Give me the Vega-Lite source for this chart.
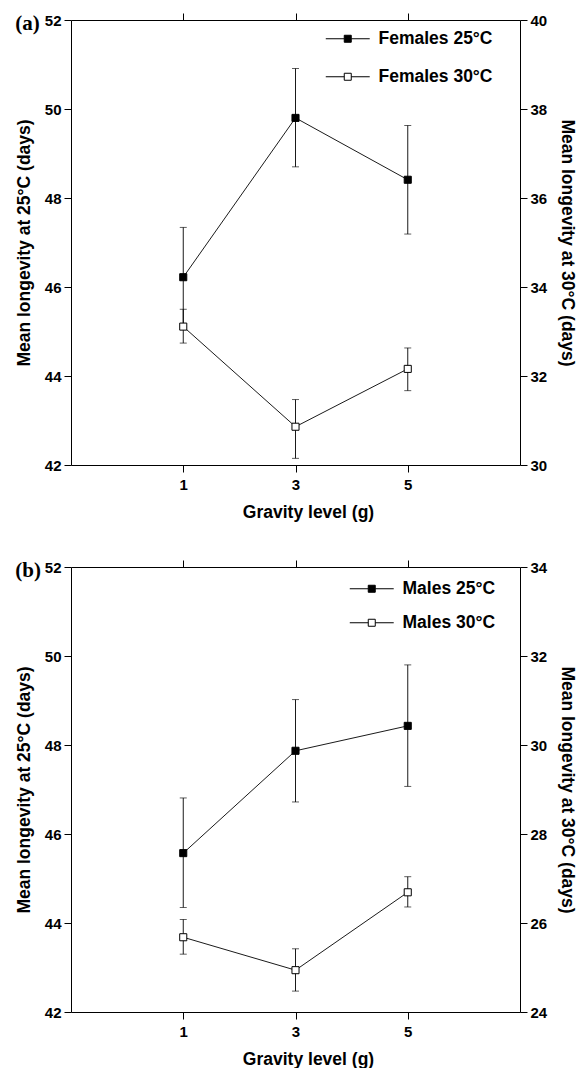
{
  "$schema": "https://vega.github.io/schema/vega-lite/v6.json",
  "background": "white",
  "padding": {"left": 14, "top": 12, "right": 5, "bottom": 0},
  "spacing": 38,
  "resolve": {"scale": {"fill": "independent"}, "legend": {"fill": "independent"}},
  "config": {
    "view": {"stroke": "black", "strokeWidth": 1},
    "font": "Liberation Sans",
    "axis": {
      "domain": false, "grid": false, "tickColor": "black", "tickSize": 7, "tickWidth": 1,
      "labelFont": "Liberation Sans", "labelFontWeight": "bold", "labelFontSize": 15, "labelColor": "black", "labelPadding": 3,
      "titleFont": "Liberation Sans", "titleFontWeight": "bold", "titleFontSize": 17.5, "titleColor": "black"
    },
    "legend": {
      "title": null, "orient": "none", "padding": 0,
      "symbolType": "M-3.14,0H-0.5M0.5,0H3.14M-0.5,-0.5H0.5V0.5H-0.5Z",
      "symbolSize": 196, "symbolStrokeColor": "black", "symbolStrokeWidth": 1,
      "labelFont": "Liberation Sans", "labelFontSize": 17.5, "labelFontWeight": "bold", "labelColor": "black",
      "labelOffset": 22
    }
  },
  "vconcat": [
    {
      "title": {"text": "(a)", "anchor": "start", "frame": "bounds", "orient": "top", "offset": -9, "dy": 23, "baseline": "middle", "font": "Liberation Serif", "fontWeight": "bold", "fontSize": 21, "color": "black"},
      "width": 449, "height": 445,
      "data": {"values": [
        {"series": "Females 25°C", "temp": 25, "g": 1, "mean": 46.22, "lo": 45.10, "hi": 47.34},
        {"series": "Females 25°C", "temp": 25, "g": 3, "mean": 49.80, "lo": 48.70, "hi": 50.91},
        {"series": "Females 25°C", "temp": 25, "g": 5, "mean": 48.41, "lo": 47.19, "hi": 49.63},
        {"series": "Females 30°C", "temp": 30, "g": 1, "mean": 33.11, "lo": 32.74, "hi": 33.50},
        {"series": "Females 30°C", "temp": 30, "g": 3, "mean": 30.86, "lo": 30.15, "hi": 31.47},
        {"series": "Females 30°C", "temp": 30, "g": 5, "mean": 32.16, "lo": 31.67, "hi": 32.63}
      ]},
      "layer": [
        {
          "transform": [{"filter": "datum.temp == 25"}],
          "encoding": {
            "x": {"field": "g", "type": "quantitative", "scale": {"domain": [-1, 7]}, "axis": {"values": [1, 3, 5], "title": "Gravity level (g)", "labelPadding": 5, "titlePadding": 11, "titleX": 237}},
            "y": {"field": "mean", "type": "quantitative", "title": "Mean longevity at 25°C (days)", "scale": {"domain": [42, 52]}, "axis": {"values": [42, 44, 46, 48, 50, 52], "orient": "left", "titlePadding": 11}}
          },
          "layer": [
            {"mark": {"type": "errorbar", "ticks": true, "color": "black", "thickness": 0.9, "size": 7}, "encoding": {"y": {"field": "lo", "type": "quantitative", "title": "Mean longevity at 25°C (days)"}, "y2": {"field": "hi"}}},
            {"mark": {"type": "line", "color": "black", "strokeWidth": 0.9}},
            {"mark": {"type": "point", "shape": "square", "size": 50, "filled": true, "stroke": "black", "strokeWidth": 1, "opacity": 1},
             "encoding": {"fill": {"field": "series", "type": "nominal", "scale": {"domain": ["Females 25°C", "Females 30°C"], "range": ["black", "white"]}, "legend": {"legendX": 268, "legendY": 10, "rowPadding": 19}}}}
          ]
        },
        {
          "transform": [{"filter": "datum.temp == 30"}],
          "encoding": {
            "x": {"field": "g", "type": "quantitative", "scale": {"domain": [-1, 7]}, "axis": {"values": [1, 3, 5], "orient": "top", "labels": false, "title": null}},
            "y": {"field": "mean", "type": "quantitative", "title": "Mean longevity at 30°C (days)", "scale": {"domain": [30, 40]}, "axis": {"values": [30, 32, 34, 36, 38, 40], "orient": "right", "titlePadding": 11}}
          },
          "layer": [
            {"mark": {"type": "errorbar", "ticks": true, "color": "black", "thickness": 0.9, "size": 7}, "encoding": {"y": {"field": "lo", "type": "quantitative", "title": "Mean longevity at 30°C (days)"}, "y2": {"field": "hi"}}},
            {"mark": {"type": "line", "color": "black", "strokeWidth": 0.9}},
            {"mark": {"type": "point", "shape": "square", "size": 50, "filled": true, "stroke": "black", "strokeWidth": 1, "opacity": 1},
             "encoding": {"fill": {"field": "series", "type": "nominal", "scale": {"domain": ["Females 25°C", "Females 30°C"], "range": ["black", "white"]}, "legend": {"legendX": 268, "legendY": 10, "rowPadding": 19}}}}
          ]
        }
      ],
      "resolve": {"scale": {"y": "independent"}, "axis": {"y": "independent", "x": "independent"}}
    },
    {
      "title": {"text": "(b)", "anchor": "start", "frame": "bounds", "orient": "top", "offset": -9, "dy": 23, "baseline": "middle", "font": "Liberation Serif", "fontWeight": "bold", "fontSize": 21, "color": "black"},
      "width": 449, "height": 445,
      "data": {"values": [
        {"series": "Males 25°C", "temp": 25, "g": 1, "mean": 45.57, "lo": 44.35, "hi": 46.81},
        {"series": "Males 25°C", "temp": 25, "g": 3, "mean": 47.87, "lo": 46.72, "hi": 49.02},
        {"series": "Males 25°C", "temp": 25, "g": 5, "mean": 48.43, "lo": 47.07, "hi": 49.80},
        {"series": "Males 30°C", "temp": 30, "g": 1, "mean": 25.68, "lo": 25.30, "hi": 26.08},
        {"series": "Males 30°C", "temp": 30, "g": 3, "mean": 24.94, "lo": 24.47, "hi": 25.42},
        {"series": "Males 30°C", "temp": 30, "g": 5, "mean": 26.69, "lo": 26.36, "hi": 27.04}
      ]},
      "layer": [
        {
          "transform": [{"filter": "datum.temp == 25"}],
          "encoding": {
            "x": {"field": "g", "type": "quantitative", "scale": {"domain": [-1, 7]}, "axis": {"values": [1, 3, 5], "title": "Gravity level (g)", "labelPadding": 5, "titlePadding": 11, "titleX": 237}},
            "y": {"field": "mean", "type": "quantitative", "title": "Mean longevity at 25°C (days)", "scale": {"domain": [42, 52]}, "axis": {"values": [42, 44, 46, 48, 50, 52], "orient": "left", "titlePadding": 11}}
          },
          "layer": [
            {"mark": {"type": "errorbar", "ticks": true, "color": "black", "thickness": 0.9, "size": 7}, "encoding": {"y": {"field": "lo", "type": "quantitative", "title": "Mean longevity at 25°C (days)"}, "y2": {"field": "hi"}}},
            {"mark": {"type": "line", "color": "black", "strokeWidth": 0.9}},
            {"mark": {"type": "point", "shape": "square", "size": 50, "filled": true, "stroke": "black", "strokeWidth": 1, "opacity": 1},
             "encoding": {"fill": {"field": "series", "type": "nominal", "scale": {"domain": ["Males 25°C", "Males 30°C"], "range": ["black", "white"]}, "legend": {"legendX": 292, "legendY": 13, "rowPadding": 15}}}}
          ]
        },
        {
          "transform": [{"filter": "datum.temp == 30"}],
          "encoding": {
            "x": {"field": "g", "type": "quantitative", "scale": {"domain": [-1, 7]}, "axis": {"values": [1, 3, 5], "orient": "top", "labels": false, "title": null}},
            "y": {"field": "mean", "type": "quantitative", "title": "Mean longevity at 30°C (days)", "scale": {"domain": [24, 34]}, "axis": {"values": [24, 26, 28, 30, 32, 34], "orient": "right", "titlePadding": 11}}
          },
          "layer": [
            {"mark": {"type": "errorbar", "ticks": true, "color": "black", "thickness": 0.9, "size": 7}, "encoding": {"y": {"field": "lo", "type": "quantitative", "title": "Mean longevity at 30°C (days)"}, "y2": {"field": "hi"}}},
            {"mark": {"type": "line", "color": "black", "strokeWidth": 0.9}},
            {"mark": {"type": "point", "shape": "square", "size": 50, "filled": true, "stroke": "black", "strokeWidth": 1, "opacity": 1},
             "encoding": {"fill": {"field": "series", "type": "nominal", "scale": {"domain": ["Males 25°C", "Males 30°C"], "range": ["black", "white"]}, "legend": {"legendX": 292, "legendY": 13, "rowPadding": 15}}}}
          ]
        }
      ],
      "resolve": {"scale": {"y": "independent"}, "axis": {"y": "independent", "x": "independent"}}
    }
  ]
}
